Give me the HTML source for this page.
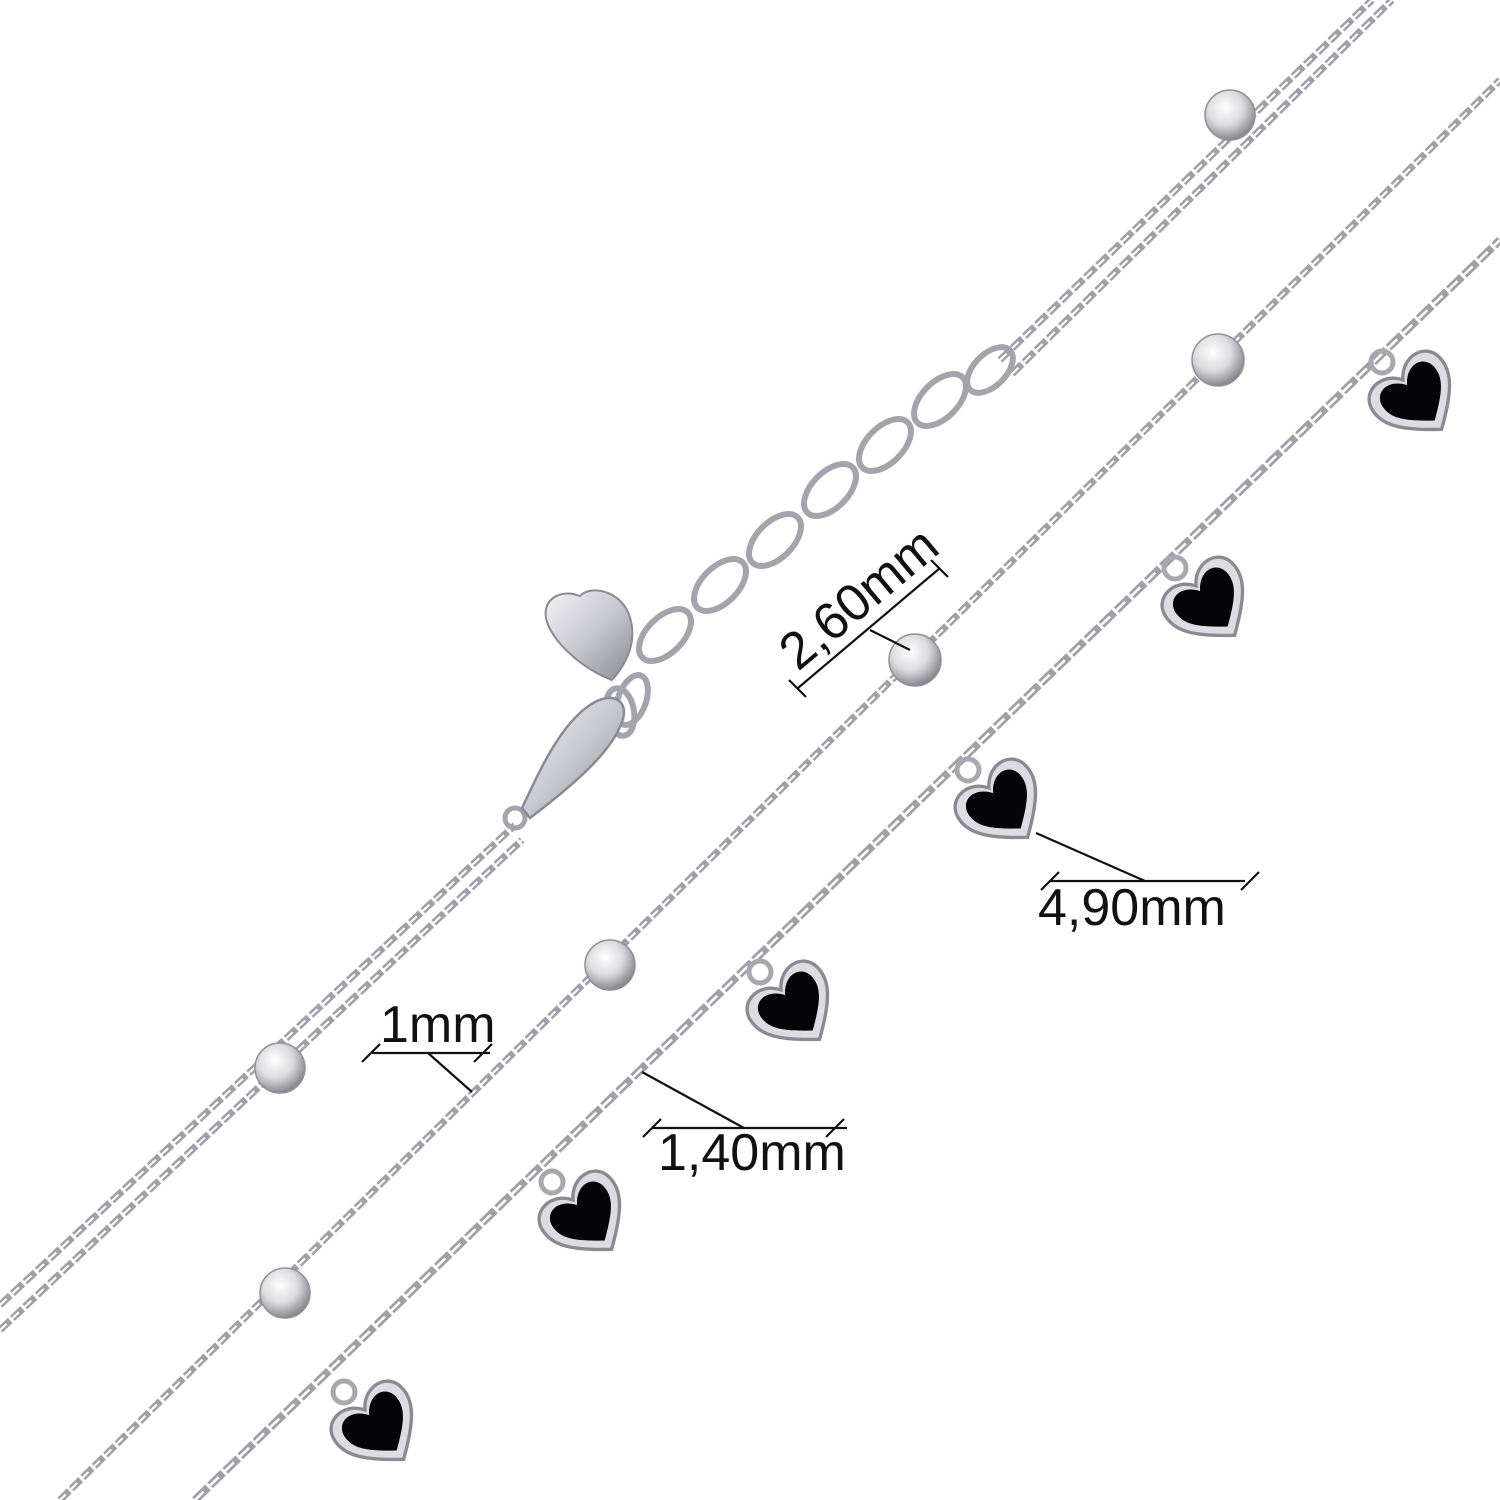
<!DOCTYPE html>
<html><head><meta charset="utf-8"><style>
html,body{margin:0;padding:0;background:#fff;width:1500px;height:1500px;overflow:hidden}
svg{display:block}
text{font-family:"Liberation Sans",sans-serif;font-size:52px;fill:#111}
</style></head><body>
<svg width="1500" height="1500" viewBox="0 0 1500 1500" xmlns="http://www.w3.org/2000/svg">
<defs>
<radialGradient id="bead" cx="0.4" cy="0.35" r="0.7">
<stop offset="0" stop-color="#fff"/><stop offset="0.5" stop-color="#dcdce0"/><stop offset="1" stop-color="#7a7a82"/>
</radialGradient>
<linearGradient id="met" x1="0" y1="0" x2="1" y2="1">
<stop offset="0" stop-color="#f4f4f7"/><stop offset="0.5" stop-color="#c8c8d0"/><stop offset="1" stop-color="#8a8a92"/>
</linearGradient>
<g id="heart">
<g transform="rotate(-38) scale(1.12)">
<path d="M0,40 C-30,18 -40,4 -38,-12 C-36,-30 -12,-34 0,-16 C12,-34 36,-30 38,-12 C40,4 30,18 0,40 Z" fill="#dcdce2" stroke="#8a8a92" stroke-width="3"/>
<path d="M0,30 C-23,13 -30,4 -29,-9 C-27,-23 -10,-25 0,-10 C10,-25 27,-23 29,-9 C30,4 23,13 0,30 Z" fill="#050507"/>
</g>
<circle cx="-32" cy="-32" r="11" fill="none" stroke="#a8a8b0" stroke-width="5"/>
</g>
</defs>
<g fill="none" stroke-linecap="butt">
<g stroke="#a0a0a8" stroke-width="7" stroke-dasharray="14 3">
<path d="M0,1305 L515,825"/><path d="M0,1330 L522,840"/>
<path d="M1000,360 L1372,0"/><path d="M1012,374 L1392,0"/>
</g>
<g stroke="#fff" stroke-width="2" stroke-dasharray="9 8">
<path d="M0,1305 L515,825"/><path d="M0,1330 L522,840"/>
<path d="M1000,360 L1372,0"/><path d="M1012,374 L1392,0"/>
</g>
<g stroke="#a4a4ac" stroke-width="6">
<ellipse cx="665" cy="635" rx="32" ry="18" transform="rotate(-45 665 635)"/>
<ellipse cx="720" cy="585" rx="32" ry="18" transform="rotate(-45 720 585)"/>
<ellipse cx="775" cy="540" rx="32" ry="18" transform="rotate(-45 775 540)"/>
<ellipse cx="830" cy="490" rx="32" ry="18" transform="rotate(-45 830 490)"/>
<ellipse cx="885" cy="445" rx="32" ry="18" transform="rotate(-45 885 445)"/>
<ellipse cx="940" cy="400" rx="32" ry="18" transform="rotate(-45 940 400)"/>
<ellipse cx="990" cy="370" rx="28" ry="16" transform="rotate(-45 990 370)"/>
<ellipse cx="632" cy="700" rx="14" ry="26" transform="rotate(20 632 700)"/>
<ellipse cx="620" cy="712" rx="14" ry="24" transform="rotate(-10 620 712)"/>
</g>
<path d="M60,1500 L1500,80" stroke="#a0a0a8" stroke-width="7" stroke-dasharray="13 3"/>
<path d="M60,1500 L1500,80" stroke="#fff" stroke-width="2" stroke-dasharray="8 8"/>
<path d="M195,1500 L1500,240" stroke="#a0a0a8" stroke-width="8" stroke-dasharray="18 3"/>
<path d="M195,1500 L1500,240" stroke="#fff" stroke-width="2.5" stroke-dasharray="12 9"/>
</g>
<circle cx="515" cy="818" r="10" fill="none" stroke="#a4a4ac" stroke-width="5"/>
<path d="M522,808 C540,770 560,725 590,705 C612,690 630,700 622,722 C612,750 580,780 530,818 Z" fill="url(#met)" stroke="#8a8a92" stroke-width="2.5"/>
<path d="M612,680 C585,670 555,645 547,622 C540,600 560,588 580,596 C590,585 618,590 628,612 C638,636 630,660 612,680 Z" fill="url(#met)" stroke="#8a8a92" stroke-width="2"/>
<g fill="url(#bead)" stroke="#909098" stroke-width="1.5">
<circle cx="280" cy="1068" r="25"/>
<circle cx="1230" cy="115" r="25"/>
<circle cx="285" cy="1293" r="25"/>
<circle cx="610" cy="965" r="25"/>
<circle cx="915" cy="660" r="26"/>
<circle cx="1218" cy="360" r="26"/>
</g>
<use href="#heart" transform="translate(376,1424)"/>
<use href="#heart" transform="translate(584,1214)"/>
<use href="#heart" transform="translate(792,1004)"/>
<use href="#heart" transform="translate(1000,802)"/>
<use href="#heart" transform="translate(1207,600)"/>
<use href="#heart" transform="translate(1414,394)"/>
<g stroke="#111" stroke-width="2.2" fill="none">
<path d="M798,688 L940,568 M789,680 L806,697 M931,560 L948,577 M870,630 L910,650"/>
<path d="M372,1053 L490,1053 M362,1062 L380,1044 M474,1062 L492,1044 M428,1053 L472,1092"/>
<path d="M1050,881 L1245,881 M1041,890 L1059,872 M1241,890 L1259,872 M1036,833 L1145,881"/>
<path d="M652,1128 L847,1128 M643,1137 L661,1119 M826,1137 L844,1119 M642,1072 L744,1128"/>
</g>
<text x="0" y="0" transform="translate(798,672) rotate(-40)">2,60mm</text>
<text x="380" y="1042">1mm</text>
<text x="1038" y="925">4,90mm</text>
<text x="658" y="1170">1,40mm</text>
</svg>
</body></html>
